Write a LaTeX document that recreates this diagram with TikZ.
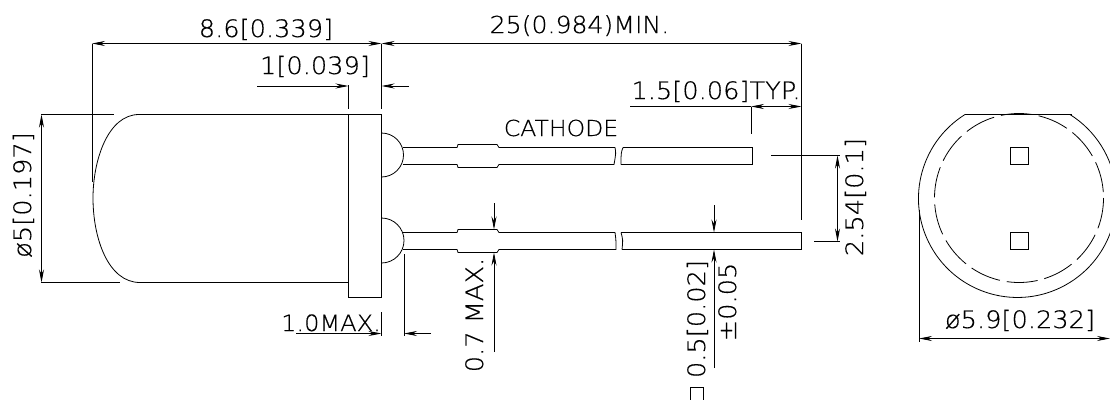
\documentclass[tikz,border=0pt]{standalone}
\usepackage{fontspec}
\setmainfont{DejaVu Sans ExtraLight}[FakeStretch=1.07,FakeBold=0.4]
\usetikzlibrary{arrows.meta}
\begin{document}
\begin{tikzpicture}[x=1pt, y=-1pt, line width=0.8pt,
    >={Stealth[length=13pt,width=5pt]},
    dimtext/.style={anchor=base, inner sep=0pt, font=\fontsize{24}{24}\selectfont},
    vdimtext/.style={dimtext, rotate=90},
    ext/.style={line width=0.7pt}]
    \useasboundingbox (0,0) rectangle (1110,399);
    \clip (0,0) rectangle (1110,399);

    % Lens body and flange
    \draw (348.5,114.5) -- (139,114.5) .. controls (108,114.5) and (93,160) .. (93,198)
        .. controls (93,238) and (108,282.5) .. (140,282.5) -- (348.5,282.5);
    \draw (348.5,114.5) rectangle (381.5,297.5);

    % Upper lead
    \draw (381.5,133) arc[start angle=-90, end angle=90, radius=22];
    \draw (403,147.5) -- (457,147.5) -- (458,144.5) -- (497,144.5) -- (499,147.5) -- (615,147.5);
    \draw (403,164.5) -- (457,164.5) -- (458,167.5) -- (497,167.5) -- (499,164.5) -- (614,164.5);
    \draw (615,147.5) .. controls (616,153) .. (614,164.5);
    \draw (623,147.5) .. controls (621,153) .. (621,164.5);
    \draw (623,147.5) -- (752.5,147.5) -- (752.5,164.5) -- (621,164.5);

    % Lower lead
    \draw (381.5,218) arc[start angle=-90, end angle=90, radius=22.5];
    \draw (403,232.5) -- (457,232.5) -- (458,229.5) -- (497,229.5) -- (499,232.5) -- (615,232.5);
    \draw (403,249.5) -- (457,249.5) -- (458,252.5) -- (497,252.5) -- (499,249.5) -- (616,249.5);
    \draw (615,232.5) .. controls (616,240) .. (616,249.5);
    \draw (621,232.5) .. controls (623,240) .. (622,249.5);
    \draw (621,232.5) -- (801.5,232.5) -- (801.5,249.5) -- (622,249.5);

    % Rear view
    \draw (965,114.5) -- (1072,114.5);
    \draw (965,114.5) arc[start angle=-122, end angle=-418, radius=99];
    \draw[dash pattern=on 31pt off 7pt] (1019,198) circle[radius=84.5];
    \draw (1010.5,147.5) rectangle (1028.5,164.5);
    \draw (1010.5,232.5) rectangle (1028.5,249.5);

    % Overall length
    \draw[ext] (92,43.5) -- (92,182);
    \draw[ext] (381.5,43.5) -- (381.5,109);
    \draw[line width=1.2pt] (801.5,43.5) -- (801.5,220);
    \draw[<->] (92,43.5) -- (381.5,43.5);
    \draw[<->] (381.5,43.5) -- (801.5,43.5);
    \node[dimtext] (bodylen) at (266,37) {8.6[0.339]};
    \node[dimtext, font=\fontsize{23.5}{24}\selectfont] (leadlen) at (579.5,33) {25(0.984)MIN.};

    % Flange thickness
    \draw[ext] (348.5,85) -- (348.5,109);
    \draw[->] (257,86) -- (348.5,86);
    \draw[->] (409,86) -- (381.5,86);
    \node[dimtext] (flange) at (315,74) {1[0.039]};

    % Lead step
    \draw[ext] (751,106.5) -- (751,134);
    \draw (630,106.5) -- (751,106.5);
    \draw[<->] (751,106.5) -- (801.5,106.5);
    \node[dimtext] (leadstep) at (716,99) {1.5[0.06]TYP.};
    \node[dimtext, font=\fontsize{22}{24}\selectfont] (cathode) at (561,136) {CATHODE};

    % Lead spacing
    \draw[ext] (771,155.5) -- (840,155.5);
    \draw[ext] (814,241.5) -- (840,241.5);
    \draw[<->] (837.5,155.5) -- (837.5,241.5);
    \node[vdimtext] (pitch) at (863,197) {2.54[0.1]};

    % Body diameter
    \draw[ext] (41,114.5) -- (114,114.5);
    \draw[ext] (41,282.5) -- (120,282.5);
    \draw[<->] (41.5,114.5) -- (41.5,282.5);
    \node[vdimtext] (bodydia) at (31,195) {ø5[0.197]};

    % Bump length
    \draw[ext] (381.5,312) -- (381.5,336);
    \draw[ext] (404,254) -- (404,336);
    \draw[->] (296,333.5) -- (381.5,333.5);
    \draw[->] (431,333.5) -- (404,333.5);
    \node[dimtext, font=\fontsize{22.5}{24}\selectfont] (bump) at (331,331) {1.0MAX.};

    % Sleeve width
    \draw[->] (494,203) -- (494,229.5);
    \draw[->] (494,352) -- (494,252.5);
    \node[vdimtext] (sleeve) at (483,315) {0.7 MAX.};

    % Lead width
    \draw[->] (714,205) -- (714,232.5);
    \draw[->] (714,368) -- (714,249.5);
    \node[vdimtext] (leadw) at (705,319) {0.5[0.02]};
    \node[vdimtext] (leadtol) at (736,302) {±0.05};
    \node[draw, ext, minimum size=13pt, inner sep=0pt] (leadsq) at (697,393.5) {};

    % Flange diameter
    \draw[ext] (919,210) -- (919,342);
    \draw[<->] (919,338.5) -- (1110,338.5);
    \node[dimtext] (flangedia) at (1020,328) {ø5.9[0.232]};
\end{tikzpicture}
\end{document}
